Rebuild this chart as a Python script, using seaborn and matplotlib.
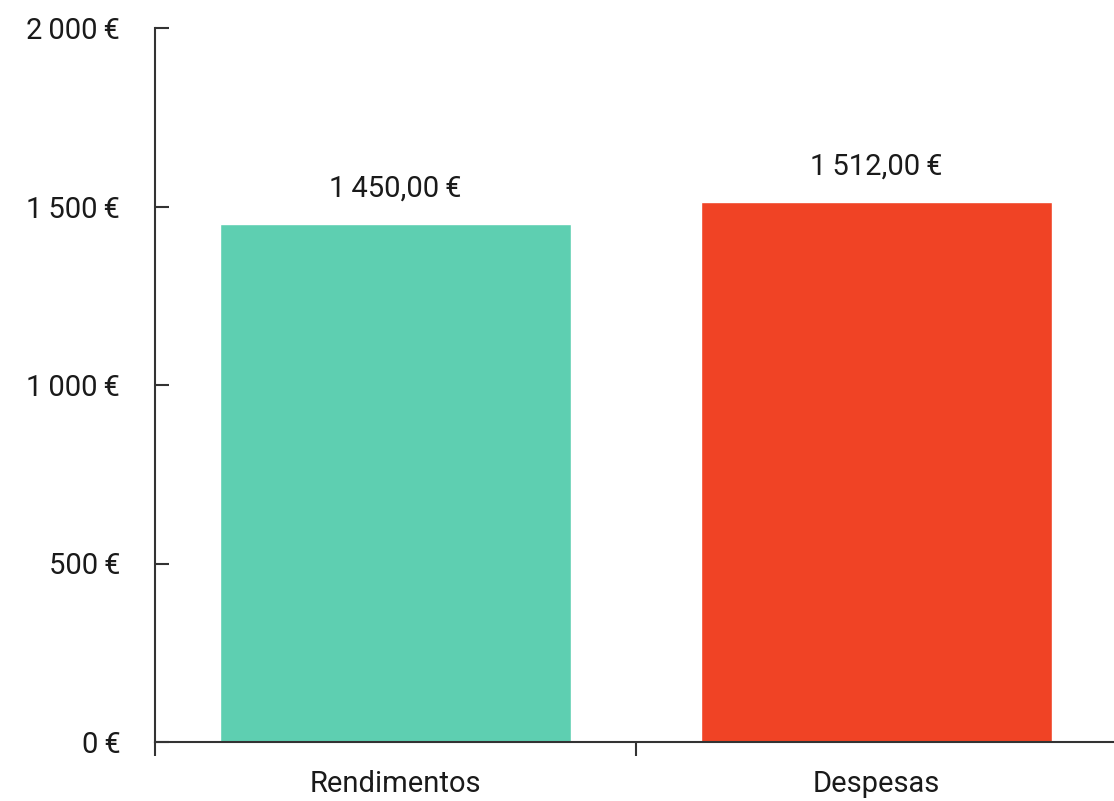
import matplotlib
matplotlib.use("Agg")
import matplotlib.pyplot as plt
import seaborn as sns
import pandas as pd
from matplotlib.ticker import FuncFormatter

# ------------------------------
# Data
# ------------------------------
categories = ["Rendimentos", "Despesas"]
values = [1450.00, 1512.00]
colors = ["#5ECFB1", "#F04325"]
y_ticks = [0, 500, 1000, 1500, 2000]

df = pd.DataFrame({"categoria": categories, "valor": values})


def eur(v, decimals=0):
    s = f"{v:,.{decimals}f}"
    s = s.replace(",", "\u2009").replace(".", ",")
    return s + "\u2009€"


sns.set_style("white")
plt.rcParams["font.family"] = ["Roboto", "DejaVu Sans"]

fig = plt.figure(figsize=(11.14, 8.01), dpi=100)
# axes runs a little past the right edge of the figure, like the reference
ax = fig.add_axes([155 / 1114, 1 - 742 / 801, (1117 - 155) / 1114, (742 - 28) / 801])

sns.barplot(data=df, x="categoria", y="valor", hue="categoria", palette=colors,
            width=0.73, saturation=1, legend=False, ax=ax)

for i, v in enumerate(values):
    ax.text(i, v + 60, eur(v, 2), ha="center", va="bottom", fontsize=21, color="#1a1a1a")

ax.set_ylim(0, 2000)
ax.set_xlim(-0.5, 1.5)
ax.set_yticks(y_ticks)
ax.yaxis.set_major_formatter(FuncFormatter(lambda v, p: eur(v)))
ax.set_xlabel("")
ax.set_ylabel("")

# category labels centred, tick marks at the boundaries
ax.set_xticks([0, 1])
ax.set_xticklabels(categories)
ax.set_xticks([-0.5, 0.5], minor=True)
ax.tick_params(axis="x", which="major", bottom=False, length=0, labelsize=21, pad=20,
               colors="#1a1a1a")
ax.tick_params(axis="x", which="minor", bottom=True, length=10, width=1.5, direction="out",
               color="#333333")
ax.tick_params(axis="y", left=True, length=10, width=1.5, direction="in", labelsize=21,
               pad=25, labelcolor="#1a1a1a", color="#333333")

sns.despine(ax=ax, top=True, right=True)
for side in ["left", "bottom"]:
    ax.spines[side].set_linewidth(1.5)
    ax.spines[side].set_color("#333333")

fig.savefig("out.png", dpi=100)
